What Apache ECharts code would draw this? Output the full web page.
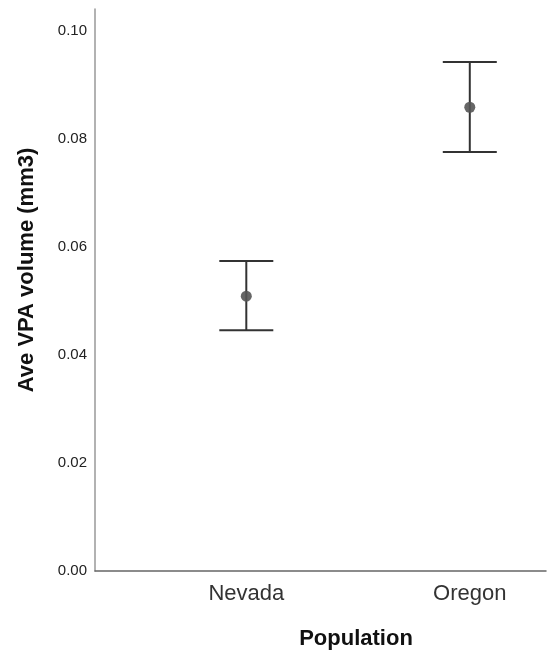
<!DOCTYPE html>
<html>
<head>
<meta charset="utf-8">
<script src="https://cdn.jsdelivr.net/npm/echarts@6/dist/echarts.min.js"></script>
<style>html,body{margin:0;padding:0;background:#fff}#c{width:547px;height:656px}</style>
</head>
<body>
<div id="c"></div>
<script>
const categories = ['Nevada', 'Oregon'];
const means = [0.0509, 0.0859];
const lower = [0.0446, 0.0776];
const upper = [0.0574, 0.0943];
const yTicks = [0, 0.02, 0.04, 0.06, 0.08, 0.10];

const chart = echarts.init(document.getElementById('c'), null, {renderer: 'canvas'});
const barData = categories.map((c, i) => [i + 1, means[i], lower[i], upper[i]]);
const pointData = categories.map((c, i) => [i + 1, means[i]]);

chart.setOption({
  animation: false,
  backgroundColor: '#fff',
  grid: {left: 95, right: 1, top: 9, bottom: 85, containLabel: false},
  xAxis: {
    type: 'value', min: 0.323, max: 2.341,
    splitLine: {show: false},
    axisLine: {show: true, lineStyle: {color: '#666', width: 1.5}},
    axisTick: {show: false},
    axisLabel: {
      customValues: [1, 2],
      formatter: v => categories[Math.round(v) - 1] || '',
      fontFamily: 'Liberation Sans, Arial, sans-serif', fontSize: 22, color: '#333', margin: 12
    }
  },
  yAxis: {
    type: 'value', min: 0, max: 0.1041,
    splitLine: {show: false},
    axisLine: {show: true, lineStyle: {color: '#999', width: 1.5}},
    axisTick: {show: false},
    axisLabel: {
      customValues: yTicks,
      formatter: v => v.toFixed(2),
      fontFamily: 'Liberation Sans, Arial, sans-serif', fontSize: 15, color: '#222', margin: 8
    }
  },
  graphic: [
    {type: 'text', x: 27, y: 270, rotation: Math.PI / 2,
      style: {text: 'Ave VPA volume (mm3)', font: 'bold 22px Liberation Sans, Arial, sans-serif', fill: '#111', align: 'center', verticalAlign: 'middle'}},
    {type: 'text', x: 356, y: 639,
      style: {text: 'Population', font: 'bold 22px Liberation Sans, Arial, sans-serif', fill: '#111', align: 'center', verticalAlign: 'middle'}}
  ],
  series: [
    {
      type: 'custom',
      data: barData,
      renderItem: function (params, api) {
        const x = api.value(0);
        const lo = api.coord([x, api.value(2)]);
        const hi = api.coord([x, api.value(3)]);
        const hw = 27;
        const st = {stroke: '#333', lineWidth: 2};
        return {
          type: 'group',
          children: [
            {type: 'line', shape: {x1: lo[0], y1: lo[1], x2: hi[0], y2: hi[1]}, style: st},
            {type: 'line', shape: {x1: hi[0] - hw, y1: hi[1], x2: hi[0] + hw, y2: hi[1]}, style: st},
            {type: 'line', shape: {x1: lo[0] - hw, y1: lo[1], x2: lo[0] + hw, y2: lo[1]}, style: st}
          ]
        };
      },
      z: 2
    },
    {
      type: 'scatter',
      data: pointData,
      symbol: 'circle',
      symbolSize: 11,
      itemStyle: {color: '#555', opacity: 0.9},
      z: 3
    }
  ]
});
</script>
</body>
</html>
